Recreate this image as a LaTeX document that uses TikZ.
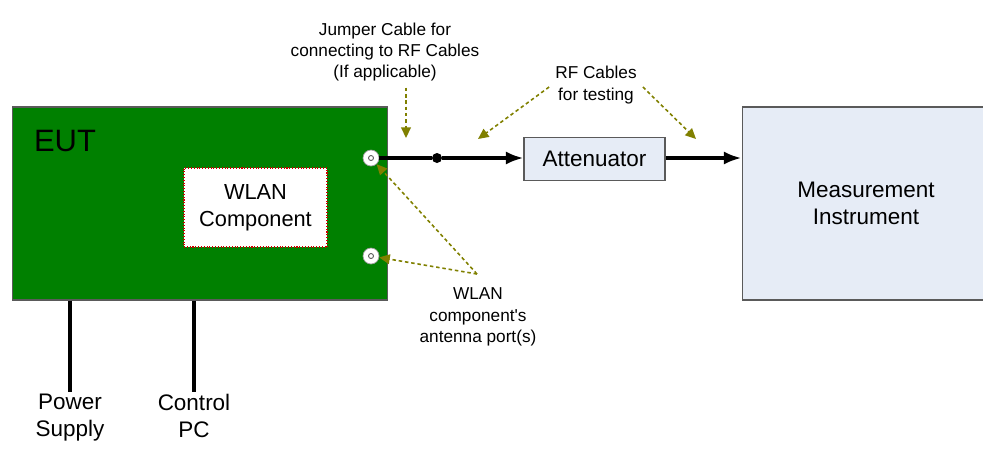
\documentclass[tikz,border=0pt]{standalone}
\usepackage{fontspec}
\setmainfont{Liberation Sans}
\usetikzlibrary{arrows.meta,calc}
\definecolor{BoardClr}{RGB}{0,128,0}
\definecolor{BoxClr}{RGB}{230,236,246}
\definecolor{NoteClr}{RGB}{128,128,0}
\definecolor{EdgeClr}{RGB}{90,90,90}

\begin{document}
\begin{tikzpicture}[x=0.02cm,y=-0.02cm,
  board/.style={draw=EdgeClr,fill=BoardClr,line width=0.6pt,inner sep=0,
    minimum width=7.52cm,minimum height=3.86cm},
  chip/.style={draw=red!80!black,densely dotted,fill=white,line width=0.6pt,
    minimum width=2.86cm,minimum height=1.58cm,align=center,
    font=\fontsize{12.4}{15.2}\selectfont},
  devbox/.style={draw=EdgeClr,fill=BoxClr,line width=0.6pt,align=center,
    font=\fontsize{12.8}{15.3}\selectfont},
  port/.style={circle,draw=EdgeClr!60,fill=white,line width=0.4pt,
    minimum size=0.32cm,inner sep=0},
  note/.style={align=center,font=\fontsize{9.8}{12.2}\selectfont},
  label/.style={align=center,anchor=north,inner sep=1pt,
    font=\fontsize{12.8}{15.3}\selectfont},
  cable/.style={line width=2.3pt},
  wire/.style={line width=1.9pt},
  pointer/.style={draw=NoteClr,line width=0.9pt,dash pattern=on 2pt off 1.6pt,
    -{Triangle[length=6pt,width=5.5pt,fill=NoteClr]}},
  joint/.style={circle,fill=black,minimum size=0.2cm,inner sep=0}]
\useasboundingbox (0,0) rectangle (983,454);

% Boxes.
\node[board] (eut) at (200,203.5) {};
\node[font=\fontsize{17.6}{20}\selectfont] (euttxt) at (65,141) {EUT};
\node[chip] (wlan) at (255.5,207.5) {WLAN\\Component};
\node[devbox,minimum width=2.82cm,minimum height=0.86cm] (att) at (594.5,159) {Attenuator};
\node[devbox,minimum width=4.96cm,minimum height=3.86cm] (meas) at (866,203.5) {Measurement\\Instrument};

% Antenna ports.
\node[port] (p1) at (371,158) {};
\node[port] (p2) at (371,256) {};
\foreach \p in {p1,p2}
  \draw[EdgeClr,line width=0.5pt] (\p) circle (2.5);

% RF path.
\node[joint] (jt) at (437,158) {};
\draw[cable] (p1) -- (jt);
\draw[cable,-{Latex[length=10pt,width=7.5pt]}] (jt) -- (att.west |- jt);
\draw[cable,-{Latex[length=10pt,width=7.5pt]}] (att.east |- jt) -- (meas.west |- jt);

% Supply lines.
\node[label] (power) at (70,392) {Power\\Supply};
\node[label] (ctrl) at (194,392) {Control\\PC};
\draw[wire] (eut.south -| power) -- (power.north);
\draw[wire] (eut.south -| ctrl) -- (ctrl.north);

% Notes with pointers.
\node[note] (jumper) at (385,52) {Jumper Cable for\\connecting to RF Cables\\(If applicable)};
\node[note] (rfnote) at (596,85) {RF Cables\\for testing};
\node[note] (portnote) at (478,317) {WLAN\\component\textquotesingle s\\antenna port(s)};

\coordinate (jtip) at (406,138);
\coordinate (rftipA) at (478,139);
\coordinate (rftipB) at (696,139);
\coordinate (papex) at (477,274);

\draw[pointer] (jumper.south -| jtip) -- (jtip);
\draw[pointer] ($(rfnote.west)+(0,2)$) -- (rftipA);
\draw[pointer] ($(rfnote.east)+(0,2)$) -- (rftipB);
\draw[pointer] (papex) -- (p1);
\draw[pointer] (papex) -- (p2);

\end{tikzpicture}
\end{document}
